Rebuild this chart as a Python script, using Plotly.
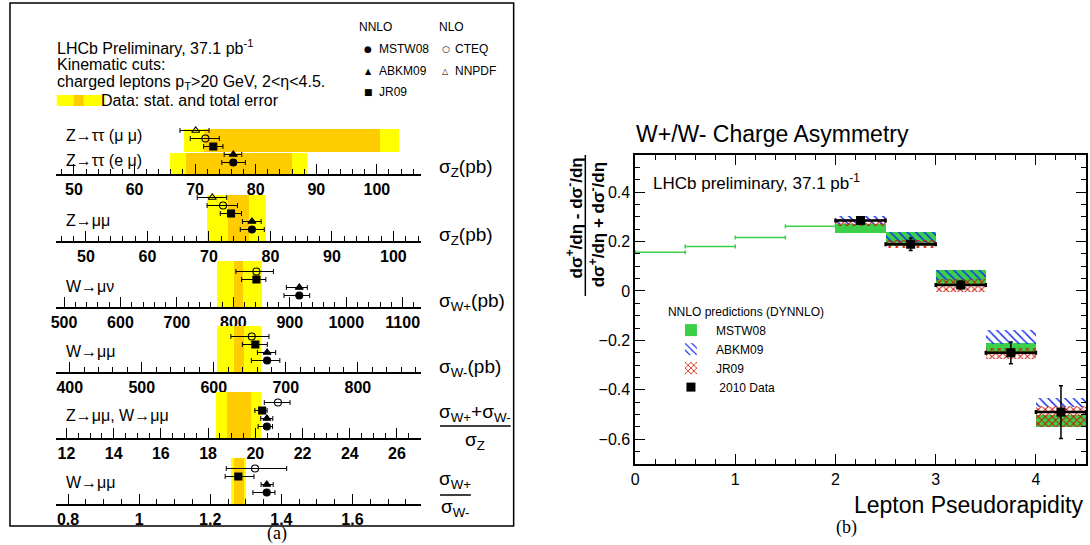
import plotly.graph_objects as go

# ---------------- data ----------------
models = ["MSTW08", "ABKM09", "JR09", "CTEQ", "NNPDF"]

# Row 1: Z->tautau (mu mu) and (e mu), sigma_Z (pb)
ztt_mumu_total = [68.1, 103.6]
ztt_mumu_stat = [71.4, 100.5]
ztt_emu_total = [65.8, 88.5]
ztt_emu_stat = [68.4, 86.0]
ztt_pred_val = [76.3, 76.3, 73.0, 71.7, 70.1]
ztt_pred_lo = [74.4, 74.8, 71.4, 69.2, 67.5]
ztt_pred_hi = [78.3, 77.7, 74.6, 74.0, 72.3]

# Row 2: Z->mumu, sigma_Z (pb)
zmm_total = [69.6, 79.3]
zmm_stat = [73.1, 76.5]
zmm_pred_val = [77.0, 77.0, 73.6, 72.3, 70.55]
zmm_pred_lo = [75.1, 75.45, 71.85, 69.7, 68.1]
zmm_pred_hi = [79.0, 78.5, 75.3, 74.65, 72.9]

# Row 3: W->mu nu, sigma_W+ (pb)
wp_total = [770.4, 849.9]
wp_stat = [801.1, 816.4]
wp_pred_val = [916.8, 916.8, 840.9, 840.9]
wp_pred_lo = [889.8, 893.9, 814.6, 804.6]
wp_pred_hi = [935.2, 931.0, 857.6, 871.0]

# Row 4: sigma_W- (pb)
wm_total = [603.7, 665.1]
wm_stat = [627.2, 641.1]
wm_pred_val = [674.0, 674.0, 657.7, 652.7]
wm_pred_lo = [652.2, 660.6, 639.7, 623.7]
wm_pred_hi = [691.7, 685.9, 674.3, 676.6]

# Row 5: (sigma_W+ + sigma_W-)/sigma_Z
rwz_total = [18.34, 20.24]
rwz_stat = [18.78, 19.81]
rwz_pred_val = [20.49, 20.49, 20.29, 20.96]
rwz_pred_lo = [20.12, 20.23, 19.98, 20.38]
rwz_pred_hi = [20.73, 20.74, 20.50, 21.47]

# Row 6: sigma_W+/sigma_W-
rww_total = [1.258, 1.301]
rww_stat = [1.265, 1.295]
rww_pred_val = [1.359, 1.359, 1.279, 1.326]
rww_pred_lo = [1.320, 1.343, 1.242, 1.245]
rww_pred_hi = [1.382, 1.377, 1.323, 1.415]

row_tick_step = [10, 10, 100, 100, 2, 0.2]
row_minor_step = [2, 2, 20, 20, 0.5, 0.05]
row_ranges = [[47.0, 107.3], [45.1, 104.5], [485.4, 1132.6],
              [380.6, 887.8], [11.55, 27.02], [0.7655, 1.793]]

# Right panel: W charge asymmetry vs lepton pseudorapidity
eta_low_centers = [0.25, 0.75, 1.25, 1.75]
mstw_low_eta = [0.157, 0.180, 0.216, 0.262]
eta_centers = [2.25, 2.75, 3.25, 3.75, 4.25]
mstw_lo = [0.233, 0.180, 0.022, -0.253, -0.550]
mstw_hi = [0.272, 0.238, 0.085, -0.212, -0.503]
abkm_lo = [0.270, 0.195, 0.045, -0.215, -0.470]
abkm_hi = [0.305, 0.238, 0.085, -0.158, -0.431]
jr09_lo = [0.262, 0.172, -0.003, -0.277, -0.550]
jr09_hi = [0.290, 0.207, 0.047, -0.232, -0.467]
asym_data = [0.285, 0.189, 0.024, -0.250, -0.490]
asym_err = [0.008, 0.025, 0.015, 0.044, 0.107]
bin_half = 0.25

# ---------------- helpers ----------------
W, H = 1090, 545
FONT = "Liberation Sans, Arial, Helvetica, sans-serif"
YELLOW = "#FFFF00"
ORANGE = "#FFCC00"
GREEN = "#3BD04A"


def px(x):
    return x / W


def py(y):
    return 1 - y / H


fig = go.Figure()

row_axis_y = [174, 241, 307, 372, 438, 504]
row_h = 50
slot_off = [11.5, 19.5, 27.5, 35.5, 43.5]
symbols = ["circle", "triangle-up", "square", "circle-open", "triangle-up-open"]


def add_band(i, total, stat, yc, wd):
    ax = "" if i == 1 else str(i)
    fig.add_trace(go.Bar(orientation="h", y=[yc], x=[total[1] - total[0]], base=[total[0]],
                         width=[wd], marker=dict(color=YELLOW, line=dict(width=0)),
                         xaxis="x" + ax, yaxis="y" + ax, showlegend=False, hoverinfo="skip"))
    fig.add_trace(go.Bar(orientation="h", y=[yc], x=[stat[1] - stat[0]], base=[stat[0]],
                         width=[wd], marker=dict(color=ORANGE, line=dict(width=0)),
                         xaxis="x" + ax, yaxis="y" + ax, showlegend=False, hoverinfo="skip"))


def add_preds(i, val, lo, hi):
    ax = "" if i == 1 else str(i)
    n = len(val)
    fig.add_trace(go.Scatter(
        x=val, y=slot_off[:n], mode="markers",
        marker=dict(symbol=symbols[:n], size=7, color="black", line=dict(width=1.1, color="black")),
        error_x=dict(type="data", symmetric=False,
                     array=[h - v for h, v in zip(hi, val)],
                     arrayminus=[v - l for v, l in zip(val, lo)],
                     thickness=1, width=2.5, color="black"),
        xaxis="x" + ax, yaxis="y" + ax, showlegend=False, hoverinfo="skip"))


add_band(1, ztt_mumu_total, ztt_mumu_stat, 33.5, 23)
add_band(1, ztt_emu_total, ztt_emu_stat, 10.5, 21)
add_preds(1, ztt_pred_val, ztt_pred_lo, ztt_pred_hi)
add_band(2, zmm_total, zmm_stat, 23, 46)
add_preds(2, zmm_pred_val, zmm_pred_lo, zmm_pred_hi)
add_band(3, wp_total, wp_stat, 23, 46)
add_preds(3, wp_pred_val, wp_pred_lo, wp_pred_hi)
add_band(4, wm_total, wm_stat, 23, 46)
add_preds(4, wm_pred_val, wm_pred_lo, wm_pred_hi)
add_band(5, rwz_total, rwz_stat, 23, 46)
add_preds(5, rwz_pred_val, rwz_pred_lo, rwz_pred_hi)
add_band(6, rww_total, rww_stat, 23, 46)
add_preds(6, rww_pred_val, rww_pred_lo, rww_pred_hi)

# ---------------- right panel ----------------
fig.add_trace(go.Scatter(
    x=eta_low_centers, y=mstw_low_eta, mode="markers",
    marker=dict(size=1, color=GREEN),
    error_x=dict(type="constant", value=bin_half, thickness=1.5, width=2, color=GREEN),
    xaxis="x7", yaxis="y7", showlegend=False, hoverinfo="skip"))

fig.add_trace(go.Bar(
    x=eta_centers, y=[h - l for h, l in zip(mstw_hi, mstw_lo)], base=mstw_lo,
    width=[2 * bin_half] * len(eta_centers), name="MSTW08",
    marker=dict(color=GREEN, line=dict(width=0)),
    xaxis="x7", yaxis="y7"))
fig.add_trace(go.Bar(
    x=eta_centers, y=[h - l for h, l in zip(abkm_hi, abkm_lo)], base=abkm_lo,
    width=[2 * bin_half] * len(eta_centers), name="ABKM09",
    marker=dict(color="#1530F0", line=dict(width=0),
                pattern=dict(shape="\\", size=6, solidity=0.25, fillmode="replace",
                             bgcolor="rgba(0,0,0,0)")),
    xaxis="x7", yaxis="y7"))
fig.add_trace(go.Bar(
    x=eta_centers, y=[h - l for h, l in zip(jr09_hi, jr09_lo)], base=jr09_lo,
    width=[2 * bin_half] * len(eta_centers), name="JR09",
    marker=dict(color="#CC1100", line=dict(width=0),
                pattern=dict(shape="x", size=5, solidity=0.35, fillmode="replace",
                             bgcolor="rgba(0,0,0,0)")),
    xaxis="x7", yaxis="y7"))
fig.add_trace(go.Scatter(
    x=eta_centers, y=asym_data, mode="markers", name=" 2010 Data",
    marker=dict(symbol="square", size=9, color="black"),
    error_x=dict(type="constant", value=bin_half, thickness=2.5, width=2, color="black"),
    error_y=dict(type="data", array=asym_err, thickness=1.5, width=2, color="black"),
    xaxis="x7", yaxis="y7"))

# ---------------- layout ----------------
layout = dict(
    width=W, height=H, autosize=False,
    margin=dict(l=0, r=0, t=0, b=0),
    paper_bgcolor="white", plot_bgcolor="rgba(0,0,0,0)",
    barmode="overlay", bargap=0,
    font=dict(family=FONT, color="black"),
    showlegend=True,
    legend=dict(x=px(664), y=py(300), xanchor="left", yanchor="top",
                title=dict(text="NNLO predictions (DYNNLO)", font=dict(size=12, family=FONT)),
                font=dict(size=12, family=FONT), bgcolor="rgba(0,0,0,0)",
                tracegroupgap=0, itemwidth=40),
)

for i in range(1, 7):
    ax = "" if i == 1 else str(i)
    ay = row_axis_y[i - 1]
    layout["xaxis" + ax] = dict(
        domain=[px(51), px(418)], range=row_ranges[i - 1], anchor="y" + ax,
        showline=True, linewidth=2, linecolor="black",
        ticks="inside", ticklen=10, tickwidth=1.2, tickcolor="black",
        dtick=row_tick_step[i - 1], tick0=0,
        minor=dict(dtick=row_minor_step[i - 1], ticks="inside", ticklen=5,
                   tickwidth=1, tickcolor="black", showgrid=False),
        showgrid=False, zeroline=False,
        tickfont=dict(size=16, family=FONT, weight="bold"),
    )
    layout["yaxis" + ax] = dict(
        domain=[py(ay), py(ay - row_h)], range=[0, row_h], anchor="x" + ax,
        visible=False, fixedrange=True,
    )

layout["xaxis7"] = dict(
    domain=[px(633), px(1086)], range=[0, 4.5], anchor="y7",
    showline=True, linewidth=1.5, linecolor="black", mirror="ticks",
    ticks="inside", ticklen=10, tickwidth=1.2, tickcolor="black", dtick=1, tick0=0,
    minor=dict(dtick=0.2, ticks="inside", ticklen=5, tickwidth=1, tickcolor="black"),
    showgrid=False, zeroline=False, tickfont=dict(size=16, family=FONT),
)
layout["yaxis7"] = dict(
    domain=[py(464), py(155)], range=[-0.7, 0.55], anchor="x7",
    showline=True, linewidth=1.5, linecolor="black", mirror="ticks",
    ticks="inside", ticklen=10, tickwidth=1.2, tickcolor="black", dtick=0.2, tick0=0,
    minor=dict(dtick=0.05, ticks="inside", ticklen=5, tickwidth=1, tickcolor="black"),
    showgrid=False, zeroline=False, tickfont=dict(size=16, family=FONT),
)

ann = []


def text(x, y, s, size, xanchor="left", **kw):
    d = dict(x=px(x), y=py(y), xref="paper", yref="paper", text=s, showarrow=False,
             xanchor=xanchor, yanchor="middle", borderpad=0,
             font=dict(size=size, family=kw.pop("family", FONT),
                       color="black", weight=kw.pop("weight", "normal")))
    d.update(kw)
    ann.append(d)


# left panel header
text(51, 47, "LHCb Preliminary, 37.1 pb<sup>-1</sup>", 16)
text(51, 64, "Kinematic cuts:", 16)
text(51, 82, "charged leptons p<sub>T</sub>&gt;20 GeV, 2&lt;η&lt;4.5.", 16)
text(95, 100, "Data: stat. and total error", 16)

# left panel legend
text(372, 27, "NNLO", 12, xanchor="center")
text(449, 27, "NLO", 12, xanchor="center")
SYMF = "DejaVu Sans"
text(365, 49, "●", 9, xanchor="center", family=SYMF)
text(375, 49, "MSTW08", 12)
text(365, 71, "▲", 8, xanchor="center", family=SYMF)
text(375, 71, "ABKM09", 12)
text(365, 92, "■", 9, xanchor="center", family=SYMF)
text(375, 92, "JR09", 12)
text(443, 49, "○", 9, xanchor="center", family=SYMF)
text(451, 49, "CTEQ", 12)
text(443, 71, "△", 8, xanchor="center", family=SYMF)
text(451, 71, "NNPDF", 12)

# row labels
text(60, 135, "Z→ττ (μ μ)", 16)
text(60, 161, "Z→ττ (e μ)", 16)
text(60, 221, "Z→μμ", 16)
text(60, 286, "W→μν", 16)
text(60, 351, "W→μμ", 16)
text(60, 415, "Z→μμ, W→μμ", 16)
text(60, 482, "W→μμ", 16)

# right-hand quantity labels
text(435, 168, "σ<sub>Z</sub>(pb)", 19)
text(435, 236, "σ<sub>Z</sub>(pb)", 19)
text(435, 302, "σ<sub>W+</sub>(pb)", 19)
text(435, 368, "σ<sub>W-</sub>(pb)", 19)
text(472, 413, "σ<sub>W+</sub>+σ<sub>W-</sub>", 19, xanchor="center")
text(472, 441, "σ<sub>Z</sub>", 19, xanchor="center")
text(452, 480, "σ<sub>W+</sub>", 19, xanchor="center")
text(452, 508, "σ<sub>W-</sub>", 19, xanchor="center")

text(273, 533, "(a)", 18, xanchor="center", family="Liberation Serif, Times New Roman, serif")
text(845, 527, "(b)", 18, xanchor="center", family="Liberation Serif, Times New Roman, serif")

# right panel texts
text(633, 134, "W+/W- Charge Asymmetry", 23)
text(650, 182, "LHCb preliminary, 37.1 pb<sup>-1</sup>", 17)
text(1084, 505, "Lepton Pseudorapidity", 23, xanchor="right")
text(572, 218, "dσ<sup>+</sup>/dη - dσ<sup>-</sup>/dη", 17, xanchor="center", textangle=-90, weight="bold")
text(595, 225, "dσ<sup>+</sup>/dη + dσ<sup>-</sup>/dη", 17, xanchor="center", textangle=-90, weight="bold")

layout["annotations"] = ann

shapes = [
    dict(type="rect", xref="paper", yref="paper", x0=px(5), x1=px(511), y0=py(526), y1=py(3),
         line=dict(color="black", width=1.5), fillcolor="rgba(0,0,0,0)", layer="above"),
    dict(type="rect", xref="paper", yref="paper", x0=px(52), x1=px(100), y0=py(106), y1=py(95),
         line=dict(width=0), fillcolor=YELLOW),
    dict(type="rect", xref="paper", yref="paper", x0=px(69), x1=px(79), y0=py(106), y1=py(95),
         line=dict(width=0), fillcolor=ORANGE),
    dict(type="line", xref="paper", yref="paper", x0=px(437), x1=px(508), y0=py(426), y1=py(426),
         line=dict(color="black", width=1.5)),
    dict(type="line", xref="paper", yref="paper", x0=px(437), x1=px(468), y0=py(495), y1=py(495),
         line=dict(color="black", width=1.5)),
    dict(type="line", xref="paper", yref="paper", x0=px(583), x1=px(583), y0=py(296), y1=py(155),
         line=dict(color="black", width=1.5)),
]
layout["shapes"] = shapes

fig.update_layout(**layout)
fig.write_html("out.html", config={"displayModeBar": False},
               post_script="document.body.style.margin='0px';document.body.style.overflow='hidden';")
